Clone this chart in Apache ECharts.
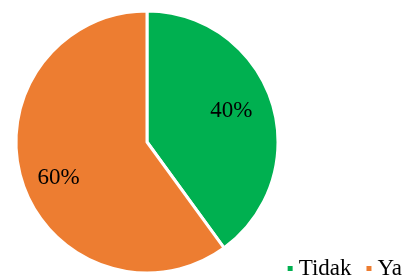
<!DOCTYPE html>
<html>
<head>
<meta charset="utf-8">
<script src="https://cdn.jsdelivr.net/npm/echarts@6/dist/echarts.min.js"></script>
<style>
  html, body { margin: 0; padding: 0; background: #fff; }
  #chart { width: 409px; height: 279px; }
</style>
</head>
<body>
<div id="chart"></div>
<script>
const categories = ["Tidak", "Ya"];
const values = [40, 60];
const colors = ["#00B050", "#ED7D31"];

const font = "Liberation Serif";
const pieData = categories.map((name, i) => ({ name, value: values[i] }));

const myChart = echarts.init(document.getElementById("chart"));
myChart.setOption({
  animation: false,
  color: colors,
  legend: {
    data: categories,
    right: 2,
    bottom: -6,
    icon: "rect",
    itemWidth: 7,
    itemHeight: 7,
    itemGap: 13,
    textStyle: { fontFamily: font, fontSize: 23, color: "#000" },
  },
  series: [
    {
      name: "main",
      type: "pie",
      center: [147, 142],
      radius: [0, 131],
      startAngle: 90,
      label: { show: false },
      labelLine: { show: false },
      itemStyle: { borderColor: "#fff", borderWidth: 3 },
      data: pieData,
    },
    {
      // invisible ring just to place the percent labels further out
      name: "labels",
      type: "pie",
      silent: true,
      center: [145, 144.5],
      radius: [0, 179],
      startAngle: 93,
      itemStyle: { color: "transparent" },
      label: {
        show: true,
        position: "inside",
        formatter: "{d}%",
        fontFamily: font,
        fontSize: 23,
        color: "#000",
      },
      labelLine: { show: false },
      data: pieData,
    },
  ],
});
</script>
</body>
</html>
